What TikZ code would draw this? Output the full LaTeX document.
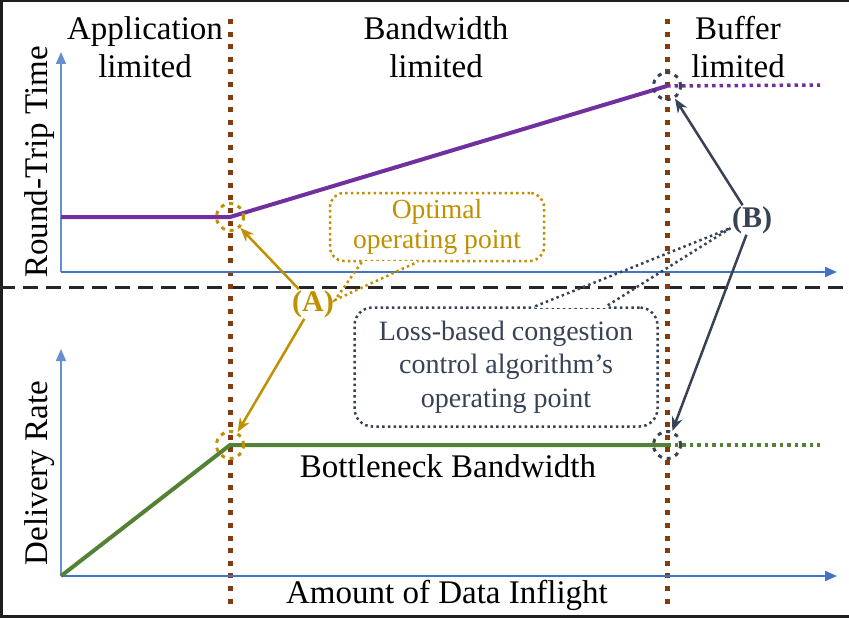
\documentclass[tikz,border=0pt]{standalone}
\usepackage{fontspec}
\setmainfont{Liberation Serif}
\usetikzlibrary{arrows.meta}
\definecolor{axisblue}{HTML}{4472C4}
\definecolor{regionbrown}{HTML}{843C0C}
\definecolor{rttpurple}{HTML}{7030A0}
\definecolor{bwgreen}{HTML}{548235}
\definecolor{optgold}{HTML}{BF9000}
\definecolor{lossslate}{HTML}{374255}
\definecolor{framegray}{HTML}{1E1E1E}
\tikzstyle{axisline} = [draw=axisblue, line width=2pt, -{Triangle[length=12pt,width=10pt]}]
\tikzstyle{regionline} = [draw=regionbrown, line width=5pt, dash pattern=on 5pt off 7.6pt]
\tikzstyle{sepline} = [draw=black!85, line width=3pt, dash pattern=on 15pt off 8pt]
\tikzstyle{rttcurve} = [draw=rttpurple, line width=4pt]
\tikzstyle{bwcurve} = [draw=bwgreen, line width=4pt]
\tikzstyle{rttdots} = [draw=rttpurple, line width=3.5pt, dash pattern=on 3.5pt off 4pt]
\tikzstyle{bwdots} = [draw=bwgreen, line width=3.5pt, dash pattern=on 3.5pt off 4pt]
\tikzstyle{regionlabel} = [align=center, inner sep=0pt, font=\fontsize{33}{38}\selectfont]
\tikzstyle{optcirc} = [circle, minimum size=27pt, inner sep=0pt, draw=optgold, line width=3pt, dash pattern=on 4pt off 5pt]
\tikzstyle{losscirc} = [circle, minimum size=27pt, inner sep=0pt, draw=lossslate, line width=3pt, dash pattern=on 4pt off 5pt]
\tikzstyle{optarrow} = [-{Stealth[length=14pt,width=11pt]}, draw=optgold, line width=2.5pt]
\tikzstyle{lossarrow} = [-{Stealth[length=14pt,width=11pt]}, draw=lossslate, line width=2.5pt]
\tikzstyle{optbox} = [rectangle, rounded corners=14pt, draw=optgold, line width=2.5pt, dash pattern=on 2.5pt off 3.2pt, text=optgold, minimum width=214pt, minimum height=68pt, align=center, font=\fontsize{27.6}{30}\selectfont]
\tikzstyle{lossbox} = [rectangle, rounded corners=18pt, draw=lossslate, line width=2.5pt, dash pattern=on 2.5pt off 3.2pt, text=lossslate, minimum width=303pt, minimum height=119pt, align=center, font=\fontsize{28}{33.5}\selectfont]
\tikzstyle{optpointer} = [draw=optgold, line width=2.5pt, dash pattern=on 2.5pt off 3.2pt]
\tikzstyle{losspointer} = [draw=lossslate, line width=2.5pt, dash pattern=on 2.5pt off 3.2pt]
\tikzstyle{callgap} = [draw=white, line width=3.5pt]
\tikzstyle{marker} = [font=\bfseries\fontsize{30}{34}\selectfont, inner sep=1pt]

\begin{document}
\begin{tikzpicture}[x=1pt, y=-1pt]
	\useasboundingbox (0,0) rectangle (849,618);
	\fill[white] (0,0) rectangle (849,618);
	\draw[framegray, line width=3pt] (1.5,618) -- (1.5,1) -- (849,1);
	\draw[framegray, line width=3pt] (0,616.5) -- (849,616.5);
	
	% axes and regions
	\coordinate (sepleft) at (0,287);
	\coordinate (sepright) at (849,287);
	\draw[sepline] (sepleft) -- (sepright);
	\coordinate (apptop) at (230,19);
	\coordinate (appbot) at (230,605);
	\coordinate (buftop) at (667,19);
	\coordinate (bufbot) at (667,605);
	\draw[regionline] (apptop) -- (appbot);
	\draw[regionline] (buftop) -- (bufbot);
	
	\coordinate (rttorigin) at (61,272);
	\coordinate (rttup) at (61,52);
	\coordinate (rttright) at (837,272);
	\coordinate (drorigin) at (61,576);
	\coordinate (drup) at (61,349);
	\coordinate (drright) at (837,576);
	\draw[axisline, line width=1.5pt, draw=axisblue!80] (rttorigin) -- (rttup);
	\draw[axisline] (rttorigin) -- (rttright);
	\draw[axisline, line width=1.5pt, draw=axisblue!80] (drorigin) -- (drup);
	\draw[axisline] (drorigin) -- (drright);
	
	% curves
	\coordinate (rttstart) at (61,217);
	\coordinate (rttknee) at (230,217);
	\coordinate (rttfull) at (667,86);
	\coordinate (rttend) at (820,85);
	\coordinate (bwknee) at (230,445);
	\coordinate (bwfull) at (667,445);
	\coordinate (bwend) at (820,445);
	\draw[rttcurve] (rttstart) -- (rttknee) -- (rttfull);
	\draw[rttdots] (rttfull) -- (rttend);
	\draw[bwcurve] (drorigin) -- (bwknee) -- (bwfull);
	\draw[bwdots] (bwfull) -- (bwend);
	
	\node (optrtt) [optcirc] at (rttknee) {};
	\node (optbw) [optcirc] at (bwknee) {};
	\node (lossrtt) [losscirc] at (rttfull) {};
	\node (lossbw) [losscirc] at (bwfull) {};
	
	% labels
	\node (applabel) [regionlabel] at (145,47) {Application\\limited};
	\node (bwlabel) [regionlabel] at (436,47) {Bandwidth\\limited};
	\node (buflabel) [regionlabel] at (738,47) {Buffer\\limited};
	\node (rttlabel) [regionlabel, rotate=90] at (40,162) {Round-Trip Time};
	\node (drlabel) [regionlabel, rotate=90] at (40,473) {Delivery Rate};
	\node (xlabel) [regionlabel] at (447,595) {Amount of Data Inflight};
	\node (btlbw) [regionlabel] at (448,466) {Bottleneck Bandwidth};
	
	% call-outs
	\node (opt) [optbox] at (437,227) {Optimal\\operating point};
	\node (loss) [lossbox] at (506,367) {Loss-based congestion\\control algorithm’s\\operating point};
	\node (A) [marker, text=optgold] at (313,304) {(A)};
	\node (B) [marker, text=lossslate] at (752,220) {(B)};
	
	\draw[callgap] ([xshift=33pt]opt.south west) -- ([xshift=88pt]opt.south west);
	\draw[optpointer] ([xshift=33pt]opt.south west) -- ([yshift=4pt]A.east) -- ([xshift=88pt]opt.south west);
	\draw[callgap] ([xshift=182pt]loss.north west) -- ([xshift=253pt]loss.north west);
	\draw[losspointer] ([xshift=182pt]loss.north west) -- ([yshift=-8pt]B.west) -- ([xshift=253pt]loss.north west);
	
	\draw[optarrow] (A) -- (optrtt);
	\draw[optarrow] (A) -- (optbw);
	\draw[lossarrow] (B) -- (lossrtt);
	\draw[lossarrow] (B) -- (lossbw);
\end{tikzpicture}
\end{document}
